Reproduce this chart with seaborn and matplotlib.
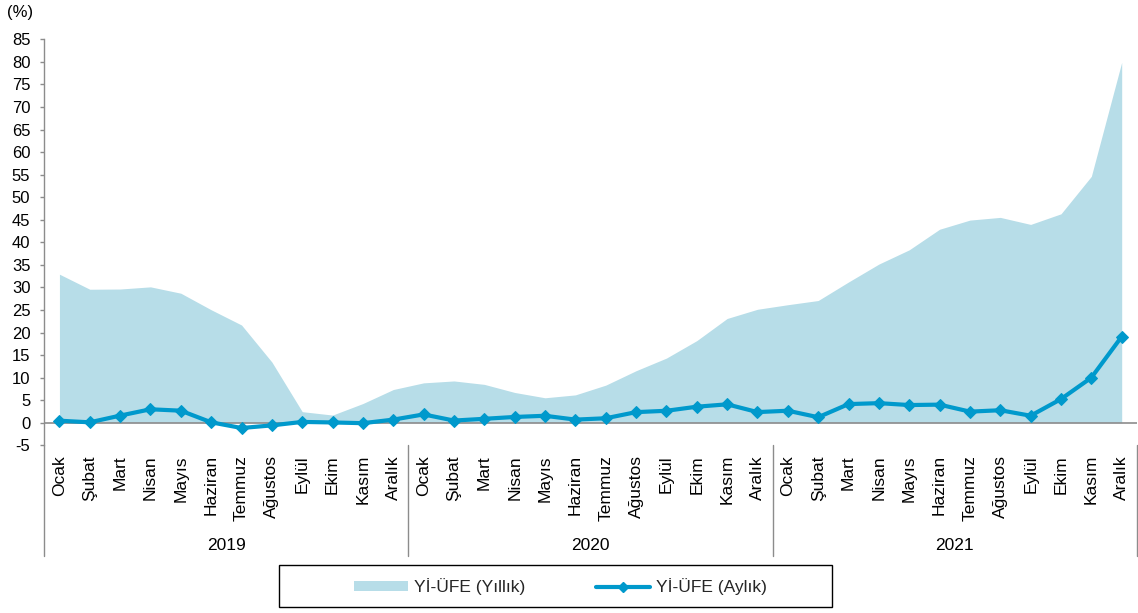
import numpy as np
import pandas as pd
import matplotlib
matplotlib.use("Agg")
import matplotlib.pyplot as plt
import matplotlib.transforms as mtransforms
from matplotlib.patches import Rectangle, Patch
from matplotlib.lines import Line2D
import seaborn as sns

months = ['Ocak', 'Şubat', 'Mart', 'Nisan', 'Mayıs', 'Haziran', 'Temmuz',
          'Ağustos', 'Eylül', 'Ekim', 'Kasım', 'Aralık']
years = ['2019', '2020', '2021']

annual = [32.93, 29.59, 29.64, 30.12, 28.71, 25.04, 21.66, 13.45, 2.45, 1.70, 4.26, 7.36,
          8.84, 9.26, 8.50, 6.71, 5.53, 6.17, 8.33, 11.53, 14.33, 18.20, 23.11, 25.15,
          26.16, 27.09, 31.20, 35.17, 38.33, 42.89, 44.92, 45.52, 43.96, 46.31, 54.62, 79.89]
monthly = [0.45, 0.09, 1.58, 2.98, 2.67, 0.09, -1.17, -0.59, 0.18, 0.06, -0.10, 0.69,
           1.84, 0.48, 0.87, 1.28, 1.54, 0.69, 0.99, 2.35, 2.65, 3.55, 4.08, 2.36,
           2.66, 1.22, 4.13, 4.34, 3.92, 4.01, 2.46, 2.77, 1.55, 5.24, 9.99, 19.08]

label_annual = 'Yİ-ÜFE (Yıllık)'
label_monthly = 'Yİ-ÜFE (Aylık)'

AREA_C = '#B7DDE8'
LINE_C = '#0099CC'
GRAY = '#8C8C8C'

df = pd.DataFrame({
    'idx': np.arange(len(annual)),
    'month': months * len(years),
    'year': np.repeat(years, len(months)),
    'annual': annual,
    'monthly': monthly,
})

sns.set_theme(style='white')
plt.rcParams['font.family'] = ['Liberation Sans', 'DejaVu Sans']

fig = plt.figure(figsize=(11.38, 6.13), dpi=100)
ax = fig.add_axes([0.0389, 0.2736, 0.9601, 0.6623])

ax.fill_between(df['idx'], 0, df['annual'], color=AREA_C, linewidth=0, zorder=1)
ax.axhline(0, color=GRAY, linewidth=1.2, zorder=2)
sns.lineplot(data=df, x='idx', y='monthly', ax=ax, color=LINE_C, linewidth=3,
             marker='D', markersize=6, markeredgecolor=LINE_C, markerfacecolor=LINE_C,
             zorder=3, legend=False)

ax.set_xlim(-0.5, len(annual) - 0.5)
ax.set_ylim(-5, 85)
ax.set_yticks(np.arange(-5, 86, 5))
ax.set_yticklabels([str(v) for v in range(-5, 86, 5)])
ax.set_xticks(df['idx'])
ax.set_xticklabels(df['month'], rotation=90)
ax.set_xlabel('')
ax.set_ylabel('')

for s in ['top', 'right', 'bottom']:
    ax.spines[s].set_visible(False)
ax.spines['left'].set_color(GRAY)
ax.spines['left'].set_linewidth(1)

ax.tick_params(axis='y', which='both', left=True, length=3, width=1, color=GRAY,
               pad=7, labelsize=12, labelcolor='#000000')
ax.tick_params(axis='x', which='both', bottom=False, length=0, pad=7,
               labelsize=12.5, labelcolor='#000000')

trans = mtransforms.blended_transform_factory(ax.transData, ax.transAxes)
n = len(months)
for k in range(len(years) + 1):
    xs = k * n - 0.5
    ax.plot([xs, xs], [0, -0.273], transform=trans, color=GRAY, linewidth=1,
            clip_on=False)
for k, yr in enumerate(years):
    ax.text(k * n + (n - 1) / 2, -0.247, yr, transform=trans, ha='center',
            va='center', fontsize=12.5, color='#000000')

fig.text(0.006, 1 - 13 / 613, '(%)', ha='left', va='center', fontsize=12,
         color='#000000')

# legend
handles = [Patch(facecolor=AREA_C, edgecolor='none', label=label_annual),
           Line2D([0], [0], color=LINE_C, linewidth=3, marker='D', markersize=5,
                  label=label_monthly)]
fig.legend(handles=handles, loc='center', bbox_to_anchor=(560.5 / 1138, 1 - 587 / 613),
           ncol=2, frameon=False, fontsize=12.5, handlelength=3.1, handleheight=0.5,
           handletextpad=0.35, columnspacing=4.1)
fig.patches.append(Rectangle((279 / 1138, 1 - 607 / 613), 553 / 1138, 42 / 613,
                             transform=fig.transFigure, fill=False,
                             edgecolor='#000000', linewidth=1))

fig.savefig('out.png', dpi=100)
